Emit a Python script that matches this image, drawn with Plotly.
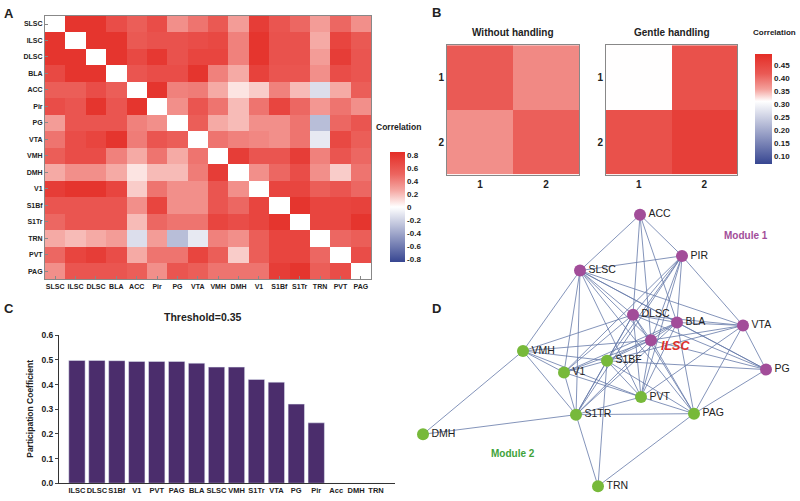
import plotly.graph_objects as go

# ---------------- data ----------------
regions = ["SLSC", "ILSC", "DLSC", "BLA", "ACC", "Pir", "PG", "VTA",
           "VMH", "DMH", "V1", "S1Bf", "S1Tr", "TRN", "PVT", "PAG"]

# correlation matrix (diagonal left blank)
corr = [
    [None, 0.80, 0.80, 0.65, 0.55, 0.65, 0.35, 0.45, 0.58, 0.30, 0.75, 0.60, 0.50, 0.30, 0.50, 0.35],
    [0.80, None, 0.80, 0.80, 0.58, 0.62, 0.62, 0.65, 0.68, 0.40, 0.80, 0.62, 0.62, 0.25, 0.70, 0.58],
    [0.80, 0.80, None, 0.80, 0.68, 0.78, 0.62, 0.70, 0.70, 0.40, 0.80, 0.62, 0.62, 0.30, 0.75, 0.60],
    [0.68, 0.80, 0.80, None, 0.60, 0.65, 0.65, 0.80, 0.40, 0.25, 0.72, 0.60, 0.60, 0.35, 0.65, 0.60],
    [0.55, 0.55, 0.65, 0.55, None, 0.80, 0.40, 0.42, 0.25, 0.08, 0.15, 0.40, 0.20, -0.15, 0.25, 0.55],
    [0.65, 0.60, 0.80, 0.60, 0.80, None, 0.35, 0.60, 0.45, 0.20, 0.45, 0.70, 0.50, 0.32, 0.45, 0.35],
    [0.30, 0.60, 0.60, 0.60, 0.40, 0.35, None, 0.55, 0.25, 0.20, 0.35, 0.35, 0.45, -0.30, 0.50, 0.60],
    [0.45, 0.65, 0.70, 0.80, 0.42, 0.60, 0.55, None, 0.45, 0.40, 0.38, 0.35, 0.45, -0.10, 0.68, 0.55],
    [0.55, 0.65, 0.65, 0.40, 0.25, 0.45, 0.25, 0.45, None, 0.75, 0.60, 0.60, 0.75, 0.40, 0.60, 0.50],
    [0.25, 0.35, 0.35, 0.25, 0.08, 0.20, 0.20, 0.42, 0.75, None, 0.35, 0.50, 0.65, 0.35, 0.15, 0.45],
    [0.75, 0.80, 0.80, 0.70, 0.15, 0.45, 0.35, 0.35, 0.60, 0.35, None, 0.70, 0.70, 0.55, 0.60, 0.50],
    [0.60, 0.60, 0.60, 0.60, 0.35, 0.70, 0.35, 0.35, 0.60, 0.50, 0.70, None, 0.80, 0.70, 0.70, 0.72],
    [0.50, 0.60, 0.60, 0.60, 0.20, 0.50, 0.45, 0.45, 0.70, 0.65, 0.70, 0.80, None, 0.70, 0.70, 0.80],
    [0.25, 0.20, 0.25, 0.30, -0.15, 0.30, -0.30, -0.10, 0.40, 0.35, 0.55, 0.70, 0.70, None, 0.50, 0.55],
    [0.50, 0.70, 0.75, 0.65, 0.25, 0.45, 0.45, 0.70, 0.55, 0.15, 0.55, 0.70, 0.70, 0.50, None, 0.65],
    [0.35, 0.60, 0.60, 0.60, 0.55, 0.35, 0.60, 0.55, 0.45, 0.45, 0.45, 0.75, 0.80, 0.55, 0.65, None],
]

modules = ["1", "2"]
without_handling = [[0.415, 0.375], [0.370, 0.410]]
gentle_handling = [[0.310, 0.430], [0.430, 0.460]]

pc_regions = ["ILSC", "DLSC", "S1Bf", "V1", "PVT", "PAG", "BLA", "SLSC",
              "VMH", "S1Tr", "VTA", "PG", "Pir", "Acc", "DMH", "TRN"]
pc_values = [0.498, 0.498, 0.497, 0.494, 0.494, 0.494, 0.487, 0.471,
             0.471, 0.421, 0.410, 0.321, 0.245, 0, 0, 0]

node_names = ["ACC", "PIR", "SLSC", "DLSC", "BLA", "VTA", "ILSC", "PG",
              "VMH", "S1BF", "V1", "PVT", "PAG", "S1TR", "DMH", "TRN"]
node_module = [1, 1, 1, 1, 1, 1, 1, 1, 2, 2, 2, 2, 2, 2, 2, 2]
node_x = [640, 682, 580, 633, 677, 743, 651, 766, 523, 607, 564, 641, 694, 576, 423, 598]
node_y = [214, 256, 271, 316, 324, 327, 342, 372, 353, 363, 375, 400, 417, 418, 438, 491]
edges = [
    ("ACC", "SLSC"), ("ACC", "PIR"), ("ACC", "DLSC"), ("ACC", "ILSC"), ("ACC", "BLA"),
    ("PIR", "SLSC"), ("PIR", "VTA"), ("PIR", "DLSC"), ("PIR", "BLA"), ("PIR", "ILSC"),
    ("PIR", "S1BF"), ("PIR", "V1"), ("PIR", "PVT"), ("PIR", "S1TR"),
    ("SLSC", "VMH"), ("SLSC", "V1"), ("SLSC", "S1TR"), ("SLSC", "DLSC"), ("SLSC", "ILSC"),
    ("SLSC", "BLA"), ("SLSC", "VTA"), ("SLSC", "PG"), ("SLSC", "PVT"), ("SLSC", "PAG"),
    ("DLSC", "VMH"), ("DLSC", "V1"), ("DLSC", "S1BF"), ("DLSC", "S1TR"), ("DLSC", "PVT"),
    ("DLSC", "PAG"), ("DLSC", "BLA"), ("DLSC", "VTA"), ("DLSC", "PG"), ("DLSC", "ILSC"),
    ("BLA", "VTA"), ("BLA", "PG"), ("BLA", "S1BF"), ("BLA", "S1TR"), ("BLA", "PVT"),
    ("BLA", "PAG"), ("BLA", "V1"), ("BLA", "ILSC"),
    ("ILSC", "VMH"), ("ILSC", "V1"), ("ILSC", "S1BF"), ("ILSC", "S1TR"), ("ILSC", "PVT"),
    ("ILSC", "PAG"), ("ILSC", "PG"), ("ILSC", "VTA"),
    ("VTA", "PG"), ("VTA", "PVT"), ("VTA", "S1BF"), ("VTA", "PAG"),
    ("PG", "PAG"), ("PG", "S1BF"),
    ("VMH", "DMH"), ("VMH", "S1TR"), ("VMH", "V1"), ("VMH", "PVT"), ("VMH", "S1BF"),
    ("V1", "S1TR"), ("V1", "PVT"), ("V1", "S1BF"),
    ("S1BF", "S1TR"), ("S1BF", "TRN"), ("S1BF", "PVT"), ("S1BF", "PAG"),
    ("S1TR", "DMH"), ("S1TR", "TRN"), ("S1TR", "PAG"), ("S1TR", "PVT"),
    ("PAG", "TRN"), ("PAG", "PVT"),
]

# ---------------- helpers ----------------
W, H = 800, 501
FONT = "Liberation Sans, Arial, sans-serif"


def px_x(p):
    return p / W


def px_y(p):
    return 1 - p / H


def bfont(size):
    return dict(family=FONT, size=size, color="#222", weight="bold")


BLUE = "rgb(55,70,145)"
RED = "rgb(228,45,38)"

fig = go.Figure()

# ---- A: correlation heatmap ----
fig.add_trace(go.Heatmap(z=corr, x=regions, y=regions, coloraxis="coloraxis",
                         xaxis="x", yaxis="y", hoverongaps=False))

# ---- B: module heatmaps ----
fig.add_trace(go.Heatmap(z=without_handling, x=modules, y=modules,
                         coloraxis="coloraxis2", xaxis="x2", yaxis="y2"))
fig.add_trace(go.Heatmap(z=gentle_handling, x=modules, y=modules,
                         coloraxis="coloraxis2", xaxis="x3", yaxis="y3"))

# ---- C: participation coefficient ----
fig.add_trace(go.Bar(x=pc_regions, y=pc_values, marker_color="#4b2d6c",
                     width=0.82, xaxis="x4", yaxis="y4"))

# ---- D: network ----
pos = {n: (x, y) for n, x, y in zip(node_names, node_x, node_y)}
ex, ey = [], []
for a, b in edges:
    ex += [pos[a][0], pos[b][0], None]
    ey += [pos[a][1], pos[b][1], None]
fig.add_trace(go.Scatter(x=ex, y=ey, mode="lines", hoverinfo="none",
                         line=dict(color="#6478a8", width=0.8),
                         xaxis="x5", yaxis="y5"))
node_colors = ["#a24d99" if m == 1 else "#77b93a" for m in node_module]
node_text = ["" if n == "ILSC" else n for n in node_names]
fig.add_trace(go.Scatter(x=node_x, y=node_y, mode="markers+text",
                         text=node_text, textposition="middle right",
                         textfont=dict(family=FONT, size=10.5, color="#222"),
                         marker=dict(size=12, color=node_colors),
                         xaxis="x5", yaxis="y5"))

frame = dict(showline=True, linecolor="#888", linewidth=1, mirror=True,
             showgrid=False, zeroline=False)

annotations = []


def note(text, x, y, size=8, color="#222", xanchor="left", yanchor="middle",
         angle=0, italic=False):
    annotations.append(dict(text=text, x=px_x(x), y=px_y(y), xref="paper", yref="paper",
                            showarrow=False, xanchor=xanchor, yanchor=yanchor,
                            textangle=angle, borderpad=0,
                            font=dict(family=FONT, size=size, color=color, weight="bold",
                                      style="italic" if italic else "normal")))


# panel letters
note("A", 3, 9, size=13)
note("B", 431, 8, size=13)
note("C", 3, 310, size=13)
note("D", 431, 310, size=13)

# B titles, colourbar titles
note("Without handling", 513, 28, size=10, xanchor="center")
note("Gentle handling", 672, 28, size=10, xanchor="center")
note("Correlation", 797, 28, size=8, xanchor="right")
note("Correlation", 375, 124, size=8.5)

# C title and y title
note("Threshold=0.35", 202, 318, size=10.5, xanchor="center")
note("Participation Coefficient", 30, 412, size=8.5, xanchor="center", angle=-90)

# D module labels
note("Module 1", 746, 235, size=10, color="#a24d99", xanchor="center")
note("Module 2", 513, 458, size=10, color="#3fa33a", xanchor="center")
note("ILSC", 660, 348, size=12.5, color="#e0302a", italic=True)

fig.update_layout(
    width=W, height=H, margin=dict(l=0, r=0, t=0, b=0),
    paper_bgcolor="white", plot_bgcolor="white", showlegend=False,
    font=dict(family=FONT, color="#222"),
    annotations=annotations,
    coloraxis=dict(
        cmin=-0.85, cmax=0.85,
        colorscale=[[0, BLUE], [0.5, "rgb(255,255,255)"], [0.65, "rgb(245,168,163)"],
                    [0.8, "rgb(236,100,95)"], [1, RED]],
        colorbar=dict(x=px_x(380), xanchor="left", y=px_y(206.5), yanchor="middle",
                      len=133 / H, thickness=15, outlinewidth=0,
                      tickvals=[0.8, 0.6, 0.4, 0.2, 0, -0.2, -0.4, -0.6, -0.8],
                      ticktext=["0.8", "0.6", "0.4", "0.2", "0", "-0.2", "-0.4", "-0.6", "-0.8"],
                      ticks="", tickfont=bfont(8)),
    ),
    coloraxis2=dict(
        cmin=0.07, cmax=0.49,
        colorscale=[[0, BLUE], [0.57, "rgb(255,255,255)"], [0.68, "rgb(244,160,155)"],
                    [0.82, "rgb(234,90,85)"], [1, RED]],
        colorbar=dict(x=px_x(745), xanchor="left", y=px_y(106.5), yanchor="middle",
                      len=133 / H, thickness=17, outlinewidth=0,
                      tickvals=[0.45, 0.40, 0.35, 0.30, 0.25, 0.20, 0.15, 0.10],
                      ticktext=["0.45", "0.40", "0.35", "0.30", "0.25", "0.20", "0.15", "0.10"],
                      ticks="", tickfont=bfont(8)),
    ),
    xaxis=dict(domain=[px_x(45), px_x(371)], anchor="y", ticks="inside", ticklen=3,
               tickcolor="#888", tickangle=0, tickfont=bfont(7), **frame),
    yaxis=dict(domain=[px_y(280), px_y(11)], anchor="x", autorange="reversed",
               ticks="inside", ticklen=3, tickcolor="#888", tickfont=bfont(7), **frame),
    xaxis2=dict(domain=[px_x(447), px_x(579)], anchor="y2", ticks="", tickangle=0,
                tickfont=bfont(10), **frame),
    yaxis2=dict(domain=[px_y(173), px_y(41)], anchor="x2", autorange="reversed", ticks="",
                tickfont=bfont(10), **frame),
    xaxis3=dict(domain=[px_x(606), px_x(737)], anchor="y3", ticks="", tickangle=0,
                tickfont=bfont(10), **frame),
    yaxis3=dict(domain=[px_y(173), px_y(41)], anchor="x3", autorange="reversed", ticks="",
                tickfont=bfont(10), **frame),
    xaxis4=dict(domain=[px_x(59), px_x(395)], anchor="y4", range=[-0.9, 15.95],
                showline=True, linecolor="#333", linewidth=1, ticks="", showgrid=False,
                zeroline=False, tickangle=0, tickfont=bfont(7.5)),
    yaxis4=dict(domain=[px_y(488), px_y(337)], anchor="x4", range=[0, 0.6], dtick=0.1,
                showline=True, linecolor="#333", linewidth=1, ticks="outside", ticklen=3,
                showgrid=False, zeroline=False, tickformat=".1f", tickfont=bfont(8.5)),
    xaxis5=dict(domain=[px_x(400), 1], anchor="y5", range=[400, 800], visible=False),
    yaxis5=dict(domain=[0, px_y(200)], anchor="x5", range=[501, 200], visible=False),
)

# drop the page's default body margin so the 800x501 figure fits the window exactly
fig.write_html("out.html", config={"displayModeBar": False},
               post_script="document.body.style.margin='0';document.body.style.overflow='hidden';")
